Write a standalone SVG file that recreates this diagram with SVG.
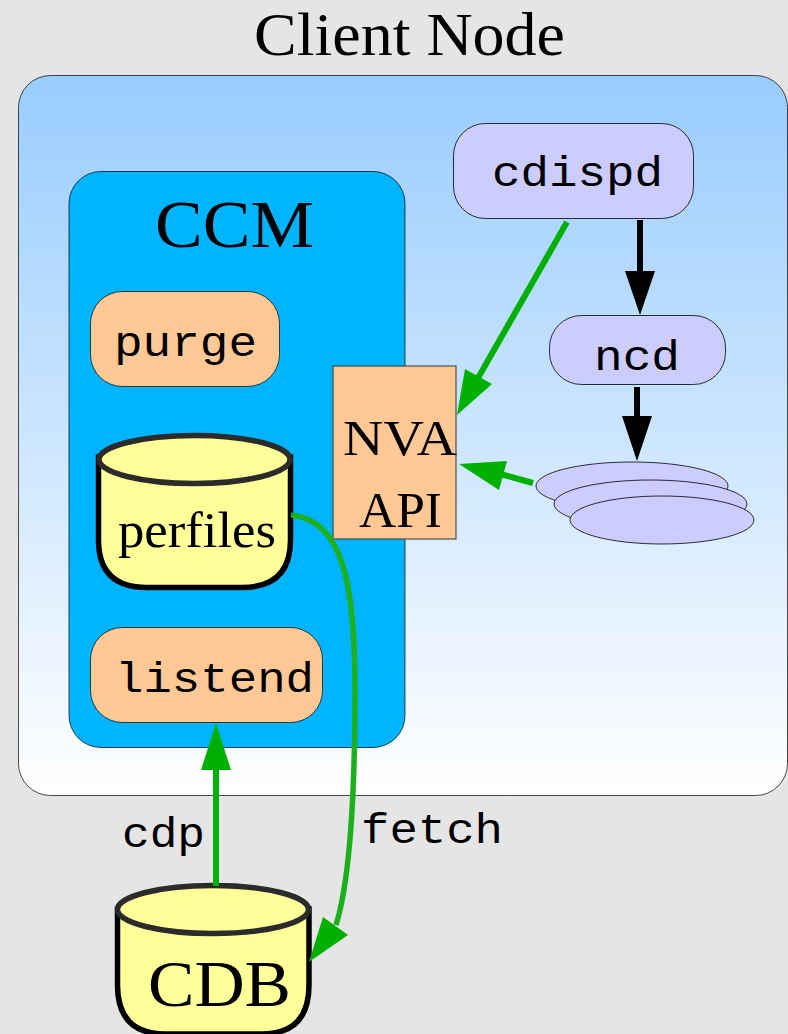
<svg xmlns="http://www.w3.org/2000/svg" width="788" height="1034" viewBox="0 0 788 1034">
<style>
.s{font-family:"Liberation Serif","Times New Roman",serif;fill:#000}
.m{font-family:"Liberation Mono","Courier New",monospace;fill:#000;font-size:43px}
.o{fill:#ffc894;stroke:#000;stroke-width:.7}
.l{fill:#ccccff;stroke:#000;stroke-width:.8}
.e{fill:#ccccff;stroke:#000;stroke-width:.8}
.c{fill:#ffff99;stroke:#000;stroke-width:5.500}
.t{fill:#ffff99;stroke:#2b2b2b;stroke-width:5.500}
.g{fill:none;stroke:#00b000;stroke-width:6}
.k{fill:none;stroke:#000;stroke-width:6}
</style>
<defs>
<linearGradient id="bg" x1="0" y1="0" x2="0" y2="1"><stop offset="0" stop-color="#99ccff"/><stop offset="1" stop-color="#ffffff"/></linearGradient>
</defs>
<rect width="788" height="1034" fill="#e5e5e5"/>
<g id="client-node">
<rect x="18.500" y="75.500" width="769" height="720" rx="32" fill="url(#bg)" stroke="#000" stroke-width=".7"/>
<text class="s" x="254" y="55" font-size="61" textLength="311" lengthAdjust="spacingAndGlyphs">Client Node</text>
</g>
<g id="ccm">
<rect x="69" y="171.500" width="336" height="576" rx="32" fill="#00b4ff" stroke="#000" stroke-width=".7"/>
<text class="s" x="155" y="247" font-size="68" textLength="159" lengthAdjust="spacingAndGlyphs">CCM</text>
</g>
<g id="purge">
<rect class="o" x="90.500" y="291.500" width="189" height="95" rx="32"/>
<text class="m" x="114" y="356" textLength="143" lengthAdjust="spacingAndGlyphs">purge</text>
</g>
<g id="perfiles">
<path class="c" d="M98.500 457V540Q98.500 587.500 147 587.500H242Q290.500 587.500 290.500 540V457Z"/>
<ellipse class="t" cx="194.500" cy="459.500" rx="95.500" ry="24"/>
<text class="s" x="118" y="547" font-size="51" textLength="158" lengthAdjust="spacingAndGlyphs">perfiles</text>
</g>
<g id="listend">
<rect class="o" x="90.500" y="627.500" width="232" height="95" rx="32"/>
<text class="m" x="115" y="692" textLength="199" lengthAdjust="spacingAndGlyphs">listend</text>
</g>
<g id="nva-api">
<rect x="333" y="366" width="123" height="173" fill="#ffc894" stroke="#333" stroke-width="1"/>
<text class="s" x="343" y="455" font-size="51" textLength="114" lengthAdjust="spacingAndGlyphs">NVA</text>
<text class="s" x="359" y="527" font-size="51" textLength="83" lengthAdjust="spacingAndGlyphs">API</text>
</g>
<g id="cdispd">
<rect class="l" x="453.500" y="123.500" width="240" height="95" rx="32"/>
<text class="m" x="492" y="186" textLength="171" lengthAdjust="spacingAndGlyphs">cdispd</text>
</g>
<g id="ncd">
<rect class="l" x="549.500" y="315.500" width="176" height="69" rx="32"/>
<text class="m" x="594" y="370" textLength="86" lengthAdjust="spacingAndGlyphs">ncd</text>
</g>
<g id="stack">
<ellipse class="e" cx="632" cy="486" rx="96" ry="24"/>
<ellipse class="e" cx="650.500" cy="504" rx="96.500" ry="24"/>
<ellipse class="e" cx="662" cy="520" rx="92" ry="24"/>
</g>
<g id="cdb">
<path class="c" d="M117.500 909V985Q117.500 1034 165 1034H262Q309 1034 309 985V909Z"/>
<ellipse class="t" cx="213" cy="909.500" rx="95.500" ry="24"/>
<text class="s" x="148" y="1006" font-size="66" textLength="143" lengthAdjust="spacingAndGlyphs">CDB</text>
</g>
<g id="connectors">
<path class="g" d="M567 222 478 378"/>
<path d="M457 415 465 369 492 384Z" fill="#00b000"/>
<path class="k" d="M640 220V272"/>
<path d="M640 315 625 271H655Z" fill="#000"/>
<path class="k" d="M637 387V416"/>
<path d="M637 461 622 416H652Z" fill="#000"/>
<path class="g" d="M533 483 500 474"/>
<path d="M459 464 507 461 499 490Z" fill="#00b000"/>
<path class="g" d="M216 886V767"/>
<path d="M216 723 231 770H201Z" fill="#00b000"/>
<path d="M291 515C345 520 355 590 355 690C355 800 350 880 336 925" fill="none" stroke="#1cb01c" stroke-width="5.500"/>
<path d="M309 962 323 917 348 935Z" fill="#00b000"/>
</g>
<g id="labels">
<text class="m" x="122" y="847" textLength="83" lengthAdjust="spacingAndGlyphs">cdp</text>
<text class="m" x="361" y="843" textLength="142" lengthAdjust="spacingAndGlyphs">fetch</text>
</g>
</svg>
